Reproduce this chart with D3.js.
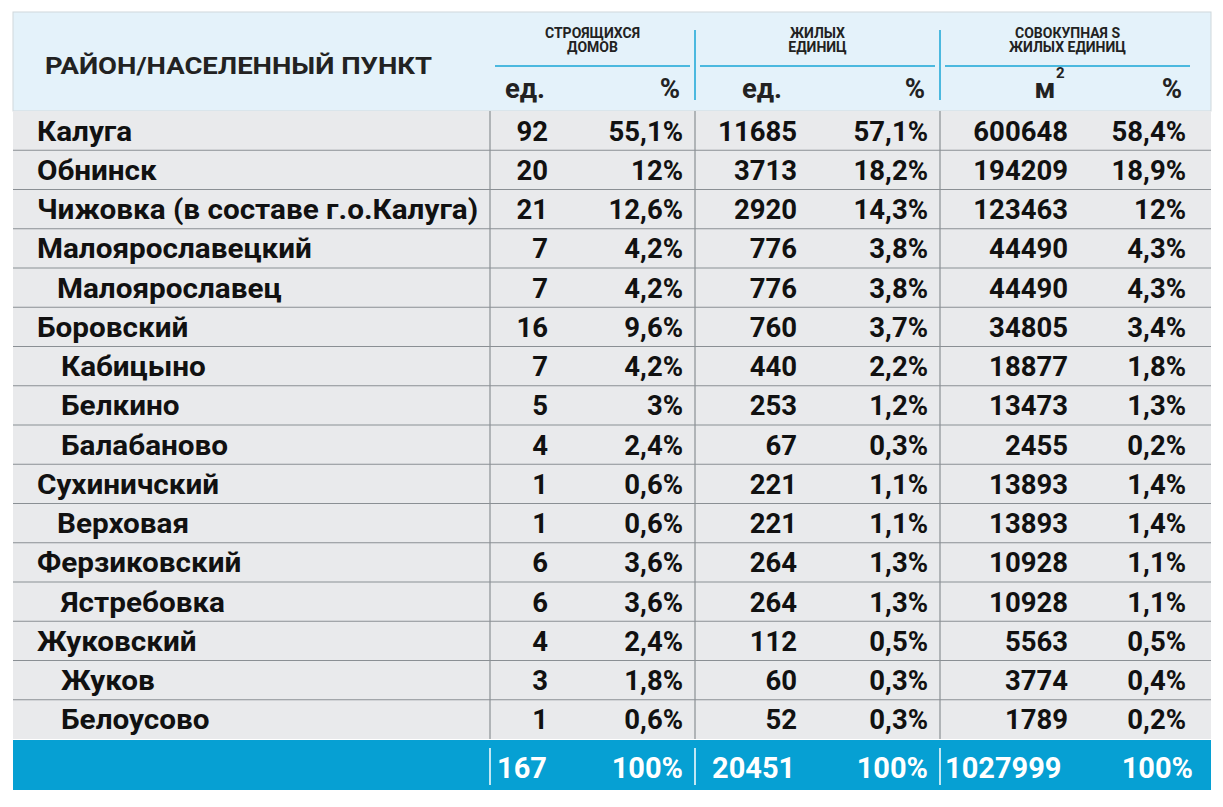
<!DOCTYPE html><html><head><meta charset="utf-8"><script src="https://cdn.jsdelivr.net/npm/d3@7"></script>
<style>body{margin:0;background:#fff}text{font-family:"Roboto",sans-serif;font-weight:bold}</style></head><body><svg id="c" width="1223" height="807"></svg><script>
const names=["Калуга","Обнинск","Чижовка (в составе г.о.Калуга)","Малоярославецкий","Малоярославец","Боровский","Кабицыно","Белкино","Балабаново","Сухиничский","Верховая","Ферзиковский","Ястребовка","Жуковский","Жуков","Белоусово"];
const indent=[0,0,0,0,1,0,2,2,2,0,1,0,2,0,2,2];
const houses=[92,20,21,7,7,16,7,5,4,1,1,6,6,4,3,1];
const housesPct=["55,1%","12%","12,6%","4,2%","4,2%","9,6%","4,2%","3%","2,4%","0,6%","0,6%","3,6%","3,6%","2,4%","1,8%","0,6%"];
const units=[11685,3713,2920,776,776,760,440,253,67,221,221,264,264,112,60,52];
const unitsPct=["57,1%","18,2%","14,3%","3,8%","3,8%","3,7%","2,2%","1,2%","0,3%","1,1%","1,1%","1,3%","1,3%","0,5%","0,3%","0,3%"];
const area=[600648,194209,123463,44490,44490,34805,18877,13473,2455,13893,13893,10928,10928,5563,3774,1789];
const areaPct=["58,4%","18,9%","12%","4,3%","4,3%","3,4%","1,8%","1,3%","0,2%","1,4%","1,4%","1,1%","1,1%","0,5%","0,4%","0,2%"];
const totals=["167","100%","20451","100%","1027999","100%"];
const groups=[["СТРОЯЩИХСЯ","ДОМОВ"],["ЖИЛЫХ","ЕДИНИЦ"],["СОВОКУПНАЯ S","ЖИЛЫХ ЕДИНИЦ"]];
const svg=d3.select("#c");
const L=13,R=1211,FS=27.5;
const y=d3.scaleBand().domain(d3.range(names.length)).range([111,739]);
svg.append("rect").attr("x",L).attr("y",12).attr("width",R-L).attr("height",99).attr("fill","#e4f2fa").attr("stroke","#d0d8dc");
svg.append("rect").attr("x",L).attr("y",111).attr("width",R-L).attr("height",628).attr("fill","#e9eaec");
svg.append("text").attr("x",45).attr("y",74).attr("font-size",23).attr("textLength",387).attr("lengthAdjust","spacingAndGlyphs").attr("fill","#222").text("РАЙОН/НАСЕЛЕННЫЙ ПУНКТ");
const divs=[490,695,940];
const gx=[[495,690],[700,935],[945,1190]];
groups.forEach((g,i)=>{const cx=(gx[i][0]+gx[i][1])/2;
 g.forEach((t,j)=>svg.append("text").attr("x",cx).attr("y",38+j*14).attr("text-anchor","middle").attr("font-size",14).attr("fill","#222").text(t));
 svg.append("line").attr("x1",gx[i][0]).attr("x2",gx[i][1]).attr("y1",66).attr("y2",66).attr("stroke","#19a6d6").attr("stroke-width",1.5);
});
[695,940].forEach(x=>svg.append("line").attr("x1",x).attr("x2",x).attr("y1",30).attr("y2",100).attr("stroke","#19a6d6").attr("stroke-width",1.5));
const cols=[548,683,797,928,1068,1186];
const unitLabels=[["ед.",525,"middle"],["%",680,"end"],["ед.",762,"middle"],["%",925,"end"],["м",1045,"middle"],["%",1182,"end"]];
unitLabels.forEach(u=>svg.append("text").attr("x",u[1]).attr("y",98).attr("text-anchor",u[2]).attr("font-size",FS).attr("fill","#222").text(u[0]));
svg.append("text").attr("x",1056).attr("y",78).attr("font-size",15).attr("fill","#222").text("2");
names.forEach((n,i)=>{
 const yy=y(i),h=y.bandwidth();
 if(i>0)svg.append("line").attr("x1",L).attr("x2",R).attr("y1",yy).attr("y2",yy).attr("stroke","#8a8f94").attr("stroke-width",1.2);
 const cy=yy+h/2+10;
 const nt=svg.append("text").attr("x",37+indent[i]*12+(indent[i]==1?8:0)).attr("y",cy).attr("font-size",FS).attr("fill","#111").text(n);
 nt.attr("transform",`translate(${37+indent[i]*12+(indent[i]==1?8:0)},0) scale(1.08,1) translate(${-(37+indent[i]*12+(indent[i]==1?8:0))},0)`);
 [houses[i],housesPct[i],units[i],unitsPct[i],area[i],areaPct[i]].forEach((v,k)=>svg.append("text").attr("x",cols[k]).attr("y",cy).attr("text-anchor","end").attr("font-size",FS).attr("fill","#111").text(v));
});
divs.forEach(x=>svg.append("line").attr("x1",x).attr("x2",x).attr("y1",111).attr("y2",739).attr("stroke","#8a8f94").attr("stroke-width",1.2));
svg.append("rect").attr("x",L).attr("y",740).attr("width",R-L).attr("height",50).attr("fill","#06a0d3");
divs.forEach(x=>svg.append("line").attr("x1",x).attr("x2",x).attr("y1",748).attr("y2",785).attr("stroke","#fff").attr("stroke-width",1.5));
const fx=[[497,"start"],[683,"end"],[712,"start"],[928,"end"],[945,"start"],[1193,"end"]];
totals.forEach((t,k)=>svg.append("text").attr("x",fx[k][0]).attr("y",778).attr("text-anchor",fx[k][1]).attr("font-size",29).attr("fill","#fff").text(t));
</script></body></html>
